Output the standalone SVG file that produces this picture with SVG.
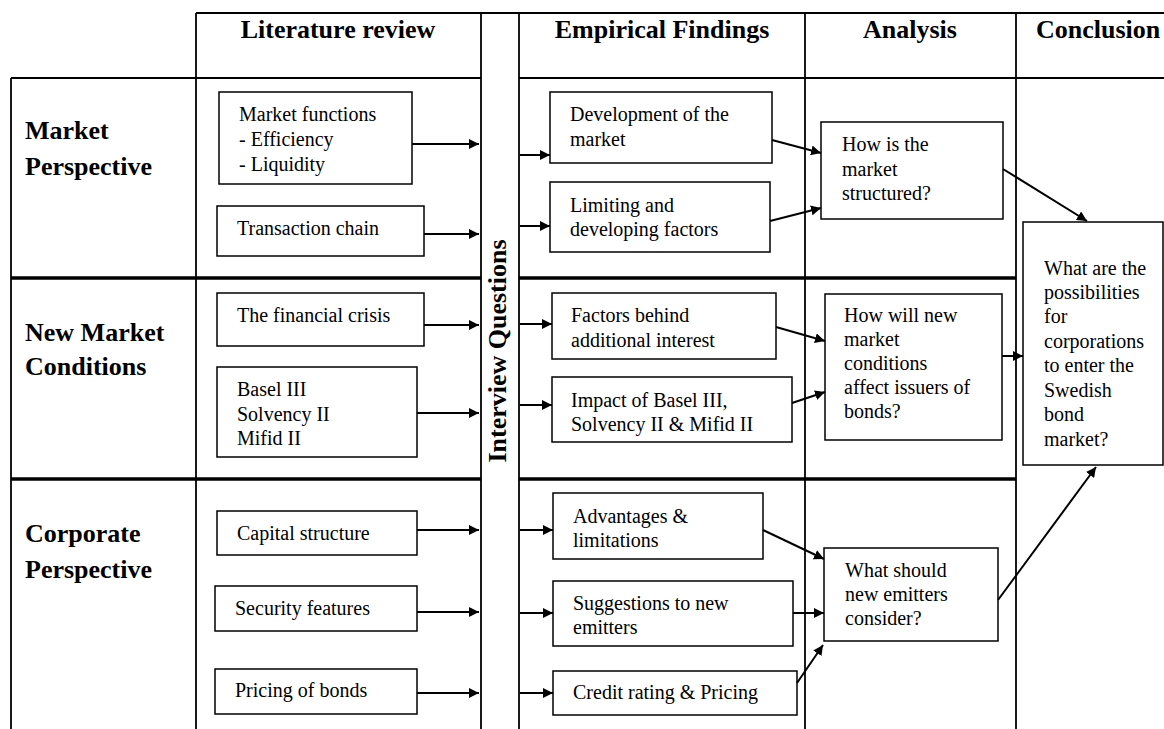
<svg xmlns="http://www.w3.org/2000/svg" width="1164" height="729" viewBox="0 0 1164 729">
<defs>
<style>
text{font-family:"Liberation Serif","Times New Roman",serif;fill:#000}
.h{font-size:26px;font-weight:bold}
.t{font-size:20px}
.g{stroke:#000;stroke-width:1.8;fill:none}
.k{stroke:#000;stroke-width:3.5;fill:none}
.b{stroke:#000;stroke-width:1.5;fill:#fff}
.a{stroke:#000;stroke-width:2;fill:none;marker-end:url(#ah)}
</style>
<marker id="ah" markerUnits="userSpaceOnUse" markerWidth="10" markerHeight="10" refX="10" refY="5" orient="auto">
<path d="M0,0 L10,5 L0,10 z" fill="#000"/>
</marker>
</defs>
<rect width="1164" height="729" fill="#fff"/>
<g id="grid">
<line class="g" x1="196" y1="13" x2="1164" y2="13"/>
<line class="g" x1="11" y1="78" x2="481" y2="78"/>
<line class="g" x1="519" y1="78" x2="1164" y2="78"/>
<line class="g" x1="11" y1="78" x2="11" y2="729"/>
<line class="g" x1="196" y1="13" x2="196" y2="729"/>
<line class="g" x1="481" y1="13" x2="481" y2="729"/>
<line class="g" x1="519" y1="13" x2="519" y2="729"/>
<line class="g" x1="805" y1="13" x2="805" y2="729"/>
<line class="g" x1="1016" y1="13" x2="1016" y2="729"/>
<line class="k" x1="11" y1="278" x2="481" y2="278"/>
<line class="k" x1="519" y1="278" x2="1016" y2="278"/>
<line class="k" x1="11" y1="479" x2="481" y2="479"/>
<line class="k" x1="519" y1="479" x2="1016" y2="479"/>
</g>
<g id="headers">
<text class="h" x="338" y="38" text-anchor="middle">Literature review</text>
<text class="h" x="662" y="38" text-anchor="middle">Empirical Findings</text>
<text class="h" x="910" y="38" text-anchor="middle">Analysis</text>
<text class="h" x="1036" y="38">Conclusion</text>
<text class="h" transform="translate(506,351) rotate(-90)" text-anchor="middle">Interview Questions</text>
</g>
<g id="rows">
<text class="h" x="25" y="139">Market</text>
<text class="h" x="25" y="175">Perspective</text>
<text class="h" x="25" y="341">New Market</text>
<text class="h" x="25" y="375">Conditions</text>
<text class="h" x="25" y="542">Corporate</text>
<text class="h" x="25" y="578">Perspective</text>
</g>
<g id="lit-market-functions"><rect class="b" x="219" y="92" width="193" height="92"/>
<text class="t" x="239" y="121">Market functions</text><text class="t" x="239" y="146">- Efficiency</text><text class="t" x="239" y="171">- Liquidity</text></g>
<g id="lit-transaction-chain"><rect class="b" x="217" y="206" width="207" height="50"/>
<text class="t" x="237" y="235">Transaction chain</text></g>
<g id="lit-financial-crisis"><rect class="b" x="217" y="293" width="207" height="53"/>
<text class="t" x="237" y="322">The financial crisis</text></g>
<g id="lit-basel"><rect class="b" x="217" y="367" width="200" height="90"/>
<text class="t" x="237" y="396">Basel III</text><text class="t" x="237" y="421">Solvency II</text><text class="t" x="237" y="445">Mifid II</text></g>
<g id="lit-capital"><rect class="b" x="217" y="511" width="200" height="44"/>
<text class="t" x="237" y="540">Capital structure</text></g>
<g id="lit-security"><rect class="b" x="215" y="586" width="202" height="45"/>
<text class="t" x="235" y="615">Security features</text></g>
<g id="lit-pricing"><rect class="b" x="215" y="669" width="202" height="45"/>
<text class="t" x="235" y="697">Pricing of bonds</text></g>
<g id="emp-development"><rect class="b" x="550" y="92" width="222" height="71"/>
<text class="t" x="570" y="121">Development of the</text><text class="t" x="570" y="146">market</text></g>
<g id="emp-limiting"><rect class="b" x="550" y="182" width="220" height="70"/>
<text class="t" x="570" y="212">Limiting and</text><text class="t" x="570" y="236">developing factors</text></g>
<g id="emp-factors"><rect class="b" x="552" y="293" width="224" height="66"/>
<text class="t" x="571" y="322">Factors behind</text><text class="t" x="571" y="347">additional interest</text></g>
<g id="emp-impact"><rect class="b" x="552" y="377" width="240" height="65"/>
<text class="t" x="571" y="407">Impact of Basel III,</text><text class="t" x="571" y="431">Solvency II &amp; Mifid II</text></g>
<g id="emp-advantages"><rect class="b" x="553" y="493" width="210" height="66"/>
<text class="t" x="573" y="523">Advantages &amp;</text><text class="t" x="573" y="547">limitations</text></g>
<g id="emp-suggestions"><rect class="b" x="553" y="581" width="240" height="65"/>
<text class="t" x="573" y="610">Suggestions to new</text><text class="t" x="573" y="634">emitters</text></g>
<g id="emp-credit"><rect class="b" x="553" y="671" width="244" height="44"/>
<text class="t" x="573" y="699">Credit rating &amp; Pricing</text></g>
<g id="ana-structure"><rect class="b" x="821" y="122" width="182" height="97"/>
<text class="t" x="842" y="151">How is the</text><text class="t" x="842" y="176">market</text><text class="t" x="842" y="200">structured?</text></g>
<g id="ana-conditions"><rect class="b" x="825" y="294" width="177" height="146"/>
<text class="t" x="844" y="322">How will new</text><text class="t" x="844" y="346">market</text><text class="t" x="844" y="370">conditions</text><text class="t" x="844" y="394">affect issuers of</text><text class="t" x="844" y="418">bonds?</text></g>
<g id="ana-emitters"><rect class="b" x="824" y="548" width="174" height="93"/>
<text class="t" x="845" y="577">What should</text><text class="t" x="845" y="601">new emitters</text><text class="t" x="845" y="625">consider?</text></g>
<g id="conclusion"><rect class="b" x="1023" y="222" width="140" height="243"/>
<text class="t" x="1044" y="275">What are the</text><text class="t" x="1044" y="299">possibilities</text><text class="t" x="1044" y="323">for</text><text class="t" x="1044" y="348">corporations</text><text class="t" x="1044" y="372">to enter the</text><text class="t" x="1044" y="397">Swedish</text><text class="t" x="1044" y="421">bond</text><text class="t" x="1044" y="446">market?</text></g>
<g id="connectors">
<line class="a" x1="412" y1="144" x2="479" y2="144"/>
<line class="a" x1="424" y1="234" x2="479" y2="234"/>
<line class="a" x1="424" y1="325" x2="479" y2="325"/>
<line class="a" x1="417" y1="413" x2="479" y2="413"/>
<line class="a" x1="417" y1="530" x2="479" y2="530"/>
<line class="a" x1="417" y1="612" x2="479" y2="612"/>
<line class="a" x1="417" y1="693" x2="479" y2="693"/>
<line class="a" x1="520" y1="155" x2="550" y2="155"/>
<line class="a" x1="520" y1="226" x2="550" y2="226"/>
<line class="a" x1="520" y1="324" x2="552" y2="324"/>
<line class="a" x1="520" y1="405" x2="552" y2="405"/>
<line class="a" x1="520" y1="530" x2="553" y2="530"/>
<line class="a" x1="520" y1="613" x2="553" y2="613"/>
<line class="a" x1="520" y1="693" x2="553" y2="693"/>
<line class="a" x1="772" y1="140" x2="821" y2="153"/>
<line class="a" x1="770" y1="221" x2="821" y2="208"/>
<line class="a" x1="776" y1="327" x2="825" y2="341"/>
<line class="a" x1="792" y1="403" x2="825" y2="392"/>
<line class="a" x1="763" y1="530" x2="824" y2="559"/>
<line class="a" x1="793" y1="613" x2="824" y2="613"/>
<line class="a" x1="797" y1="683" x2="823" y2="645"/>
<line class="a" x1="1003" y1="169" x2="1087" y2="221"/>
<line class="a" x1="1002" y1="356" x2="1023" y2="356"/>
<line class="a" x1="998" y1="600" x2="1096" y2="467"/>
</g>
</svg>
